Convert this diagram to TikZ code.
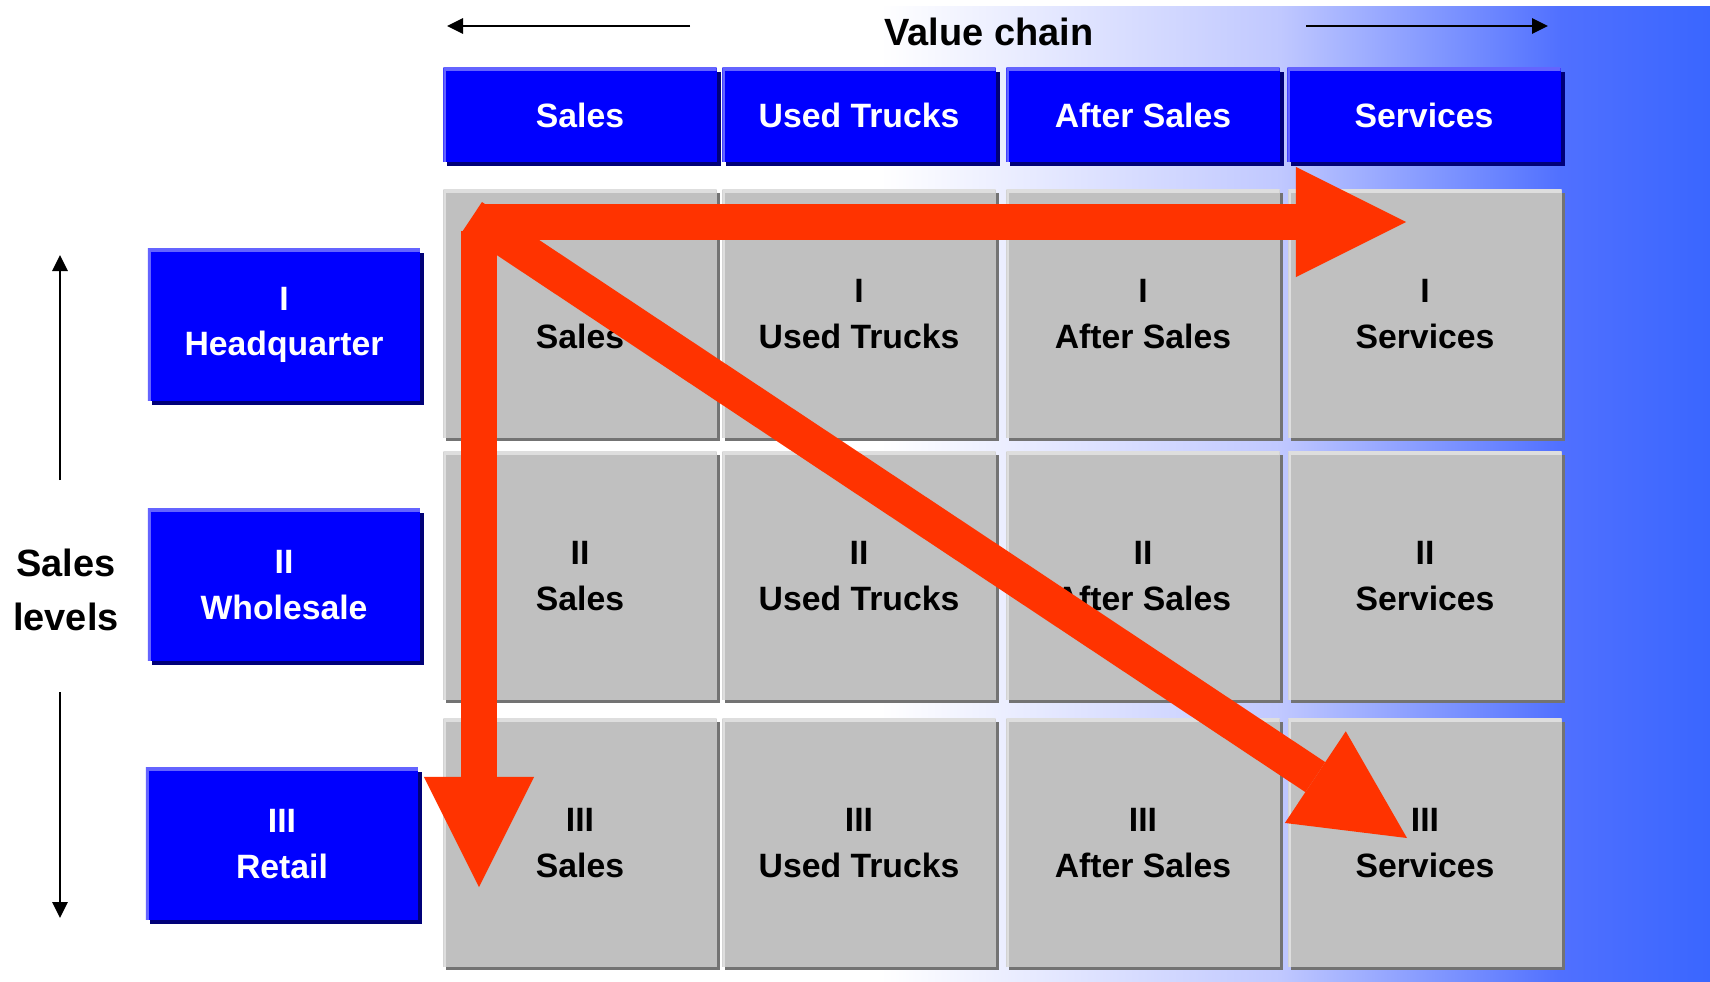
\documentclass[tikz,border=0pt]{standalone}
\usepackage{fontspec}
\setmainfont{Liberation Sans}
\usetikzlibrary{arrows.meta,shadows}

\definecolor{boxblue}{RGB}{0,0,255}
\definecolor{boxrim}{RGB}{100,100,255}
\definecolor{boxshade}{RGB}{0,0,120}
\definecolor{cellgray}{RGB}{192,192,192}
\definecolor{cellrim}{RGB}{222,222,222}
\definecolor{cellshade}{RGB}{115,115,115}
\definecolor{flowred}{RGB}{255,51,0}
\definecolor{bgmid}{RGB}{192,200,255}
\definecolor{bgdeep}{RGB}{80,112,255}
\definecolor{bgblue}{RGB}{58,102,255}

\newcommand{\cellfont}{\fontsize{9.6pt}{13pt}\selectfont\bfseries}
\newcommand{\bigfont}{\fontsize{10.8pt}{15.3pt}\selectfont\bfseries}

\begin{document}
\begin{tikzpicture}[x=0.01cm,y=-0.01cm,
    colbox/.style={rectangle,fill=boxblue,text=white,font=\cellfont,align=center,
      minimum width=2.73cm,minimum height=0.94cm,
      drop shadow={shadow xshift=0.04cm,shadow yshift=-0.04cm,fill=boxshade,opacity=1},
      path picture={\draw[boxrim,line width=0.06cm] (path picture bounding box.south west) |- (path picture bounding box.north east);}},
    rowbox/.style={colbox,minimum width=2.72cm,minimum height=1.52cm},
    cellbox/.style={rectangle,fill=cellgray,text=black,font=\cellfont,align=center,
      minimum width=2.73cm,minimum height=2.48cm,
      drop shadow={shadow xshift=0.03cm,shadow yshift=-0.03cm,fill=cellshade,opacity=1},
      path picture={\draw[cellrim,line width=0.06cm] (path picture bounding box.south west) |- (path picture bounding box.north east);}},
    guide/.style={line width=0.8pt,-{Triangle[length=0.16cm,width=0.15cm]}},
    flowarrow/.style={flowred,line width=0.36cm,-{Triangle[length=1.1cm,width=1.1cm,line width=0pt]}}]

  % background
  \useasboundingbox (0,0) rectangle (1710,981);
  \fill[white] (0,0) rectangle (1710,981);
  \shade[left color=white,right color=bgmid] (880,6) rectangle (1281,981);
  \shade[left color=bgmid,right color=bgdeep] (1280,6) rectangle (1561,981);
  \shade[left color=bgdeep,right color=bgblue] (1560,6) rectangle (1710,981);

  % value chain
  \node (vc) at (989,32) [font=\bigfont] {Value chain};
  \coordinate (lt) at (690,26);
  \coordinate (lh) at (447,26);
  \coordinate (rt) at (1306,26);
  \coordinate (rh) at (1548,26);
  \draw[guide] (lt) -- (lh);
  \draw[guide] (rt) -- (rh);

  \node (hs) at (580,115) [colbox] {Sales};
  \node (hu) at (859,115) [colbox] {Used Trucks};
  \node (ha) at (1143,115) [colbox] {After Sales};
  \node (hv) at (1424,115) [colbox] {Services};

  % sales levels
  \node (sl) at (66,590) [font=\bigfont,align=center] {Sales\\levels};
  \coordinate (ut) at (60,480);
  \coordinate (uh) at (60,255);
  \coordinate (dt) at (60,692);
  \coordinate (dh) at (60,918);
  \draw[guide] (ut) -- (uh);
  \draw[guide] (dt) -- (dh);

  \node (l1) at (284,325) [rowbox] {I\\Headquarter};
  \node (l2) at (284,585) [rowbox] {II\\Wholesale};
  \node (l3) at (282,844) [rowbox] {III\\Retail};

  % matrix
  \node (s1) at (580,314) [cellbox] {I\\Sales};
  \node (u1) at (859,314) [cellbox] {I\\Used Trucks};
  \node (a1) at (1143,314) [cellbox] {I\\After Sales};
  \node (v1) at (1425,314) [cellbox] {I\\Services};
  \node (s2) at (580,576) [cellbox] {II\\Sales};
  \node (u2) at (859,576) [cellbox] {II\\Used Trucks};
  \node (a2) at (1143,576) [cellbox] {II\\After Sales};
  \node (v2) at (1425,576) [cellbox] {II\\Services};
  \node (s3) at (580,843) [cellbox] {III\\Sales};
  \node (u3) at (859,843) [cellbox] {III\\Used Trucks};
  \node (a3) at (1143,843) [cellbox] {III\\After Sales};
  \node (v3) at (1425,843) [cellbox] {III\\Services};

  % red paths
  \coordinate (rs) at (483,222);
  \coordinate (re) at (1406,222);
  \coordinate (vs) at (479,231);
  \coordinate (ve) at (479,887);
  \coordinate (ds) at (472,217);
  \coordinate (de) at (1407,838);
  \draw[flowarrow] (rs) -- (re);
  \draw[flowarrow] (vs) -- (ve);
  \draw[flowarrow] (ds) -- (de);
\end{tikzpicture}
\end{document}
